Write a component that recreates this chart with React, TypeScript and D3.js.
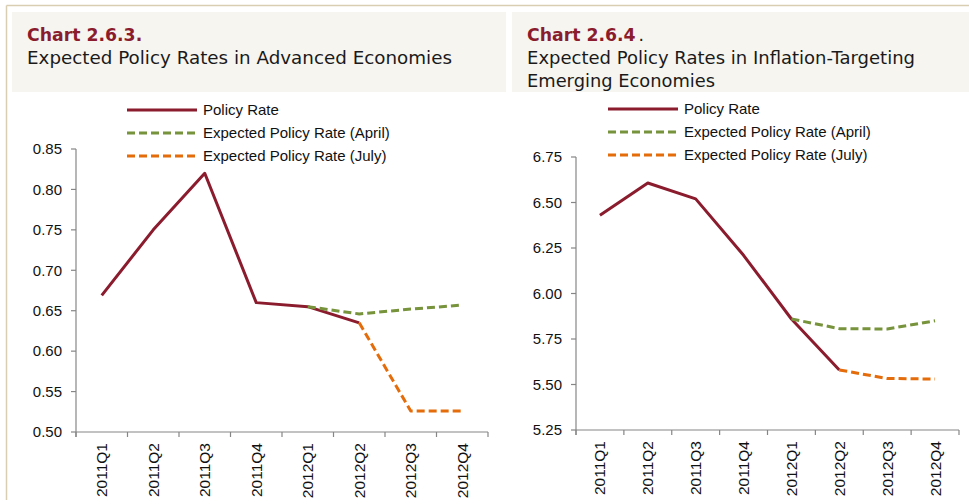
import * as d3 from 'd3'

const quarters = ['2011Q1', '2011Q2', '2011Q3', '2011Q4', '2012Q1', '2012Q2', '2012Q3', '2012Q4']

// Chart 2.6.3 - advanced economies
const advPolicy = [0.669, 0.750, 0.820, 0.660, 0.655, 0.635, null, null]
const advApril = [null, null, null, null, 0.655, 0.646, 0.652, 0.657]
const advJuly = [null, null, null, null, null, 0.635, 0.526, 0.526]
const advTicks = [0.5, 0.55, 0.6, 0.65, 0.7, 0.75, 0.8, 0.85]

// Chart 2.6.4 - inflation-targeting emerging economies
const emPolicy = [6.43, 6.607, 6.52, 6.21, 5.86, 5.58, null, null]
const emApril = [null, null, null, null, 5.86, 5.807, 5.805, 5.85]
const emJuly = [null, null, null, null, null, 5.58, 5.533, 5.53]
const emTicks = [5.25, 5.5, 5.75, 6.0, 6.25, 6.5, 6.75]

const legendLabels = ['Policy Rate', 'Expected Policy Rate (April)', 'Expected Policy Rate (July)']
const colors = ['#8a1c2e', '#77933c', '#e46c0a']
const dashes = [null, '8,4', '8,4']

const AXIS = '#868686'
const FONT = 'Liberation Sans, Arial, sans-serif'
const TITLE_FONT = 'DejaVu Sans, sans-serif'

interface PanelProps {
  left: number
  right: number
  top: number
  bottom: number
  ticks: number[]
  series: (number | null)[][]
  legendX: number
  legendY: number
}

function Panel({ left, right, top, bottom, ticks, series, legendX, legendY }: PanelProps) {
  const x = d3.scaleBand<string>().domain(quarters).range([left, right]).padding(0)
  const y = d3.scaleLinear().domain([ticks[0], ticks[ticks.length - 1]]).range([bottom, top])
  const cx = (i: number) => (x(quarters[i]) as number) + x.bandwidth() / 2
  const line = d3.line<number | null>()
    .defined(d => d !== null)
    .x((_, i) => cx(i))
    .y(d => y(d as number))

  return (
    <g>
      {/* y axis */}
      <line x1={left} x2={left} y1={top} y2={bottom + 5} stroke={AXIS} strokeWidth={1.2} />
      {ticks.map(t => (
        <g key={t}>
          <line x1={left - 5} x2={left} y1={y(t)} y2={y(t)} stroke={AXIS} strokeWidth={1.2} />
          <text x={left - 14} y={y(t)} dy="0.35em" textAnchor="end" fontSize={15} fontFamily={FONT} fill="#111">
            {t.toFixed(2)}
          </text>
        </g>
      ))}
      {/* x axis */}
      <line x1={left} x2={right} y1={bottom} y2={bottom} stroke={AXIS} strokeWidth={1.2} />
      {[...quarters.map(q => x(q) as number), right].map((v, i) => (
        <line key={i} x1={v} x2={v} y1={bottom} y2={bottom + 5} stroke={AXIS} strokeWidth={1.2} />
      ))}
      {quarters.map((q, i) => (
        <text key={q} transform={`translate(${cx(i)},${bottom + 11}) rotate(-90)`} dy="0.35em"
          textAnchor="end" fontSize={15.5} fontFamily={FONT} fill="#111">{q}</text>
      ))}
      {/* series */}
      {series.map((s, i) => (
        <path key={i} d={line(s) ?? ''} fill="none" stroke={colors[i]} strokeWidth={3}
          strokeDasharray={dashes[i] ?? undefined} strokeLinejoin="round" />
      ))}
      {/* legend */}
      {legendLabels.map((l, i) => (
        <g key={l} transform={`translate(${legendX},${legendY + i * 23})`}>
          <line x1={0} x2={70} y1={0} y2={0} stroke={colors[i]} strokeWidth={3}
            strokeDasharray={dashes[i] ?? undefined} />
          <text x={76} y={0} dy="0.35em" fontSize={15} fontFamily={FONT} fill="#111">{l}</text>
        </g>
      ))}
    </g>
  )
}

export default function App() {
  return (
    <svg width={969} height={504} style={{ position: 'absolute', left: 0, top: 0, background: '#fff' }}>
      {/* frame */}
      <line x1={6.5} x2={969} y1={5.5} y2={5.5} stroke="#d9cdb2" strokeWidth={1.5} />
      <line x1={6.5} x2={6.5} y1={5.5} y2={500} stroke="#d9cdb2" strokeWidth={1.5} />
      <rect x={12} y={12} width={494} height={80} fill="#f6f5f0" />
      <rect x={512} y={12} width={457} height={80} fill="#f6f5f0" />

      <text x={27} y={41} fontSize={17.3} fontWeight="bold" fontFamily={TITLE_FONT} fill="#8a1c2e">Chart 2.6.3.</text>
      <text x={27} y={64} fontSize={17} fontFamily={TITLE_FONT} fill="#1a1a1a"
        textLength={425} lengthAdjust="spacingAndGlyphs">Expected Policy Rates in Advanced Economies</text>

      <text x={527} y={41} fontSize={17.3} fontWeight="bold" fontFamily={TITLE_FONT} fill="#8a1c2e">Chart 2.6.4</text>
      <text x={638.5} y={41} fontSize={17.3} fontFamily={TITLE_FONT} fill="#1a1a1a">.</text>
      <text x={527} y={64} fontSize={17} fontFamily={TITLE_FONT} fill="#1a1a1a"
        textLength={388} lengthAdjust="spacingAndGlyphs">Expected Policy Rates in Inflation-Targeting</text>
      <text x={527} y={87} fontSize={17} fontFamily={TITLE_FONT} fill="#1a1a1a"
        textLength={188} lengthAdjust="spacingAndGlyphs">Emerging Economies</text>

      <Panel left={76} right={488} top={149} bottom={432} ticks={advTicks}
        series={[advPolicy, advApril, advJuly]} legendX={127} legendY={110} />
      <Panel left={576} right={959} top={157} bottom={430} ticks={emTicks}
        series={[emPolicy, emApril, emJuly]} legendX={608} legendY={109} />
    </svg>
  )
}
